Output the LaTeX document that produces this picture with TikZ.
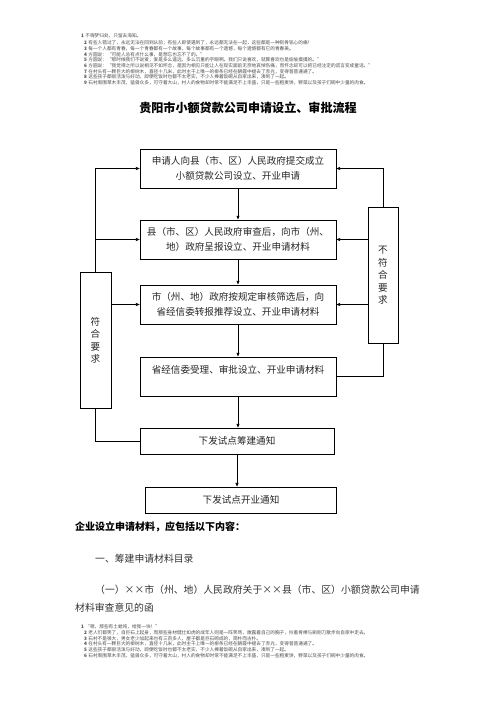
\documentclass[tikz,border=0pt]{standalone}
\usepackage{fontspec}
\setmainfont{Noto Sans CJK SC}
\usetikzlibrary{arrows.meta,positioning}
\newcommand{\timesmark}{\makebox[1em]{×}}

\begin{document}
\begin{tikzpicture}[
  x=1.2pt, y=-1.2pt,
  stepbox/.style={rectangle, draw, line width=0.9pt, minimum width=235pt, align=center, font=\fontsize{11.5}{17.5}\selectfont, text=black!85},
  sidebox/.style={rectangle, draw, line width=0.9pt, minimum width=37pt, minimum height=164pt, align=center, font=\fontsize{11.5}{15}\selectfont, text=black!85},
  arrow/.style={-{Triangle[length=4.5pt,width=3.5pt]}, line width=0.9pt},
  plain/.style={line width=0.9pt},
  note/.style={anchor=west, inner sep=0pt, font=\fontsize{5.6}{6}\selectfont, text=black!70},
  body/.style={anchor=west, inner sep=0pt, font=\fontsize{11.8}{14}\selectfont, text=black!80}
]
  \useasboundingbox (0,0) rectangle (496,702);

  % small lines on top
  \node[note] (head1) at (81,36) {\makebox[5pt][l]{\bfseries 1}不嗨梦归处，只留去海知。};
  \foreach \i/\y/\txt in {
    2/43/{有些人错过了，永远无法在回到从前；有些人即使遇到了，永远都无法在一起，这些都是一种刻骨铭心的痛！},
    3/48.7/{每一个人都有青春，每一个青春都有一个故事，每个故事都有一个遗憾，每个遗憾都有它的青春美。},
    4/54.4/{方圆说：“可能人总有点什么事，是想忘也忘不了的。”},
    5/60.1/{方圆说：“那时候我们不说爱，爱是多么遥远、多么沉重的字眼啊。我们只说喜欢，就算喜欢也是偷偷摸摸的。”},
    6/65.8/{方圆说：“我觉得之所以说相见不如怀念，是因为相见只能让人在现实面前无奈地哀悼伤痛，而怀念却可以把已经注定的谎言变成童话。”},
    7/71.5/{在村头有一颗巨大的柳树木，直径十几米，此时主干上唯一的柳条已经在朝霞中褪去了赤光，变得普普通通了。},
    8/77.2/{这些孩子都很活泼与好动，即便吃饭时也都不太老实，不少人捧着饭碗从自家出来，凑到了一起。},
    9/82.9/{石村周围草木丰茂，猛兽众多，可守着大山，村人的食物却时常不能满足不上丰盛，只是一些粗麦饼，野菜以及孩子们碗中少量的肉食。}}
    \node[note] (head\i) at (84,\y) {\makebox[5pt][l]{\bfseries\i}\txt};

  \node[font=\fontsize{14.5}{16}\selectfont\bfseries] (title) at (248,108) {贵阳市小额贷款公司申请设立、审批流程};

  % flow
  \node[stepbox, minimum height=47pt] (apply) at (238,168.5) {申请人向县（市、区）人民政府提交成立\\小额贷款公司设立、开业申请};
  \node[stepbox, minimum height=47pt] (county) at (238,239.5) {县（市、区）人民政府审查后，向市（州、\\地）政府呈报设立、开业申请材料};
  \node[stepbox, minimum height=47pt] (city) at (238,304.5) {市（州、地）政府按规定审核筛选后，向\\省经信委转报推荐设立、开业申请材料};
  \node[stepbox, minimum height=47pt] (province) at (238,376.5) {省经信委受理、审批设立、开业申请材料\\~};
  \node[stepbox, minimum height=31pt, minimum width=233pt] (prepare) at (237,441) {下发试点筹建通知};
  \node[stepbox, minimum height=31pt, minimum width=230pt] (open) at (241,500) {下发试点开业通知};

  \node[sidebox] (pass) at (95.5,340.5) {符\\合\\要\\求};
  \node[sidebox, minimum width=36pt] (fail) at (383,275.5) {不\\符\\合\\要\\求};

  \draw[arrow] (apply) -- (county);
  \draw[arrow] (county) -- (city);
  \draw[arrow] (city) -- (province);
  \draw[arrow] (province.south) -- (province.south |- prepare.north);
  \draw[arrow] (prepare.south) -- (prepare.south |- open.north);

  \draw[arrow] (pass.north) |- (apply.west);
  \draw[arrow] (pass.north |- county.west) -- (county.west);
  \draw[arrow] (pass.east |- city.west) -- (city.west);
  \draw[plain] (pass.south) |- (prepare.west);

  \draw[plain] (province.east) -| (fail.south);
  \draw[arrow] (fail.north) |- (apply.east);
  \draw[arrow] (fail.west |- county.east) -- (county.east);
  \draw[arrow] (fail.west |- city.east) -- (city.east);

  % materials
  \node[body, font=\fontsize{12}{14}\selectfont\bfseries, text=black] (materials) at (75,527) {企业设立申请材料，应包括以下内容：};
  \node[body] (catalog) at (95,559) {一、筹建申请材料目录};
  \node[body] (letter) at (95,590) {（一）\timesmark\timesmark 市（州、地）人民政府关于\timesmark\timesmark 县（市、区）小额贷款公司申请};
  \node[body] (letterend) at (75,608) {材料审查意见的函};

  % small lines at the bottom
  \node[note] (foot1) at (81,627) {\makebox[5pt][l]{\bfseries 1}“嗯，那些有土蛤炖，给我一块！”};
  \foreach \i/\y/\txt in {
    2/632.7/{老人们都笑了，自巨石上起身，而那些身材健壮如虎的成年人则是一阵笑骂，敞露着自己的胸子，拎着骨棒与刷刚刀散步向自家中走去。},
    3/638.4/{石村不是很大，男女老少加起来也有三百多人，屋子都是巨石砌成的，简朴而古朴。},
    4/644.1/{在村头有一颗巨大的柳树木，直径十几米，此时主干上唯一的柳条已经在朝霞中褪去了赤光，变得普普通通了。},
    5/649.8/{这些孩子都很活泼与好动，即便吃饭时也都不太老实，不少人捧着饭碗从自家出来，凑到了一起。},
    6/655.5/{石村周围草木丰茂，猛兽众多，可守着大山，村人的食物却时常不能满足不上丰盛，只是一些粗麦饼，野菜以及孩子们碗中少量的肉食。}}
    \node[note] (foot\i) at (84,\y) {\makebox[5pt][l]{\bfseries\i}\txt};
\end{tikzpicture}
\end{document}
